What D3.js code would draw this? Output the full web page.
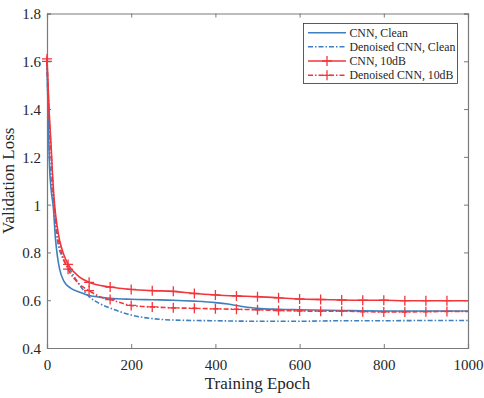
<!DOCTYPE html>
<html><head><meta charset="utf-8">
<script src="https://cdn.jsdelivr.net/npm/d3@7/dist/d3.min.js"></script>
<style>
html,body{margin:0;padding:0;background:#fff;}
svg{display:block;}
text{font-family:"Liberation Serif","Times New Roman",serif;fill:#262626;}
</style></head>
<body>
<svg id="chart" width="484" height="398"></svg>
<script>
const xTicks = [0, 200, 400, 600, 800, 1000];
const yTicks = [0.4, 0.6, 0.8, 1, 1.2, 1.4, 1.6, 1.8];
const seriesNames = ["CNN, Clean", "Denoised CNN, Clean", "CNN, 10dB", "Denoised CNN, 10dB"];

const cnnCleanEpoch = [0, 3, 6, 10, 15, 20, 25, 30, 40, 56, 75, 95, 125, 150, 200, 250, 300, 350, 400, 430, 460, 500, 550, 600, 700, 800, 900, 1000];
const cnnCleanLoss  = [1.6, 1.35, 1.16, 1.06, 0.99, 0.86, 0.78, 0.73, 0.68, 0.651, 0.635, 0.622, 0.613, 0.608, 0.604, 0.602, 0.6, 0.596, 0.59, 0.584, 0.575, 0.566, 0.562, 0.56, 0.557, 0.555, 0.555, 0.555];

const denCleanEpoch = [0, 3, 6, 10, 15, 25, 39, 52, 75, 100, 125, 150, 200, 268, 300, 400, 500, 600, 700, 800, 900, 1000];
const denCleanLoss  = [1.6, 1.38, 1.2, 1.1, 1.0, 0.85, 0.77, 0.735, 0.67, 0.615, 0.586, 0.567, 0.538, 0.52, 0.517, 0.514, 0.512, 0.512, 0.514, 0.514, 0.515, 0.515];

const cnn10Epoch = [0, 3, 6, 9, 13, 18, 24, 30, 40, 50, 75, 100, 150, 200, 250, 300, 350, 400, 450, 500, 550, 600, 650, 700, 750, 800, 850, 900, 950, 1000];
const cnn10Loss  = [1.61, 1.48, 1.36, 1.27, 1.13, 1.0, 0.91, 0.85, 0.79, 0.75, 0.7, 0.675, 0.655, 0.645, 0.64, 0.637, 0.628, 0.622, 0.618, 0.615, 0.61, 0.605, 0.603, 0.601, 0.6, 0.6, 0.598, 0.598, 0.598, 0.598];

const den10Epoch = [0, 3, 6, 9, 13, 18, 24, 30, 40, 50, 75, 100, 125, 150, 200, 250, 300, 350, 400, 450, 500, 550, 600, 650, 700, 750, 800, 850, 900, 950, 1000];
const den10Loss  = [1.6, 1.46, 1.34, 1.25, 1.11, 0.98, 0.89, 0.83, 0.77, 0.73, 0.67, 0.64, 0.615, 0.603, 0.578, 0.572, 0.568, 0.566, 0.564, 0.562, 0.56, 0.557, 0.555, 0.554, 0.554, 0.552, 0.551, 0.551, 0.552, 0.553, 0.553];

const markerEpochs = [0, 50, 100, 150, 200, 250, 300, 350, 400, 450, 500, 550, 600, 650, 700, 750, 800, 850, 900, 950];

const blue = "#3f7fbf", red = "#f2363c";
const series = [
  {name: seriesNames[0], ex: cnnCleanEpoch, ly: cnnCleanLoss, color: blue, dash: null, marker: false},
  {name: seriesNames[1], ex: denCleanEpoch, ly: denCleanLoss, color: blue, dash: "5,2,1.5,2", marker: false},
  {name: seriesNames[2], ex: cnn10Epoch, ly: cnn10Loss, color: red, dash: null, marker: true},
  {name: seriesNames[3], ex: den10Epoch, ly: den10Loss, color: red, dash: "5,2,1.5,2", marker: true}
];

const svg = d3.select("#chart");
const L = 47, R = 468, T = 13.5, B = 348;
const x = d3.scaleLinear().domain([0, 1000]).range([L, R]);
const y = d3.scaleLinear().domain([0.4, 1.8]).range([B, T]);
const axisColor = "#7a7a7a";

// axes
const gx = svg.append("g").attr("transform", `translate(0,${B})`)
  .call(d3.axisBottom(x).tickValues(xTicks).tickSize(-4).tickPadding(8).tickFormat(d3.format("d")));
const gxT = svg.append("g").attr("transform", `translate(0,${T})`)
  .call(d3.axisTop(x).tickValues(xTicks).tickSize(-4).tickFormat(""));
const gy = svg.append("g").attr("transform", `translate(${L},0)`)
  .call(d3.axisLeft(y).tickValues(yTicks).tickSize(-4).tickPadding(6).tickFormat(d => d === 1 ? "1" : d3.format(".1f")(d)));
const gyR = svg.append("g").attr("transform", `translate(${R},0)`)
  .call(d3.axisRight(y).tickValues(yTicks).tickSize(-4).tickFormat(""));
[gx, gxT, gy, gyR].forEach(g => {
  g.select(".domain").attr("stroke", axisColor).attr("stroke-width", 1.2);
  g.selectAll(".tick line").attr("stroke", axisColor);
  g.selectAll(".tick text").attr("font-size", 15).attr("fill", "#262626")
   .style("font-family", "'Liberation Serif','Times New Roman',serif");
});
gx.selectAll(".tick text").attr("dy", "0.95em");
gy.selectAll(".tick text").attr("dy", "0.36em");

// lines
const line = d3.line().x(d => x(d[0])).y(d => y(d[1])).curve(d3.curveMonotoneX);
const plot = svg.append("g");
series.forEach(s => {
  const pts = s.ex.map((e, i) => [e, s.ly[i]]);
  plot.append("path").datum(pts).attr("d", line)
    .attr("fill", "none").attr("stroke", s.color).attr("stroke-width", 1.6)
    .attr("stroke-dasharray", s.dash);
  if (s.marker) {
    const interp = d3.scaleLinear().domain(s.ex).range(s.ly);
    markerEpochs.forEach(e => {
      const cx = x(e), cy = y(interp(e));
      plot.append("path").attr("d", `M${cx-5},${cy}H${cx+5}M${cx},${cy-5}V${cy+5}`)
        .attr("stroke", s.color).attr("stroke-width", 1.3).attr("fill", "none");
    });
  }
});

// legend
const lg = svg.append("g");
lg.append("rect").attr("x", 303.5).attr("y", 23.5).attr("width", 154).attr("height", 60)
  .attr("fill", "#fff").attr("stroke", "#333").attr("stroke-width", 0.8);
const rowsY = [32.7, 46.7, 61, 75.3];
series.forEach((s, i) => {
  const yy = rowsY[i];
  lg.append("line").attr("x1", 308).attr("x2", 346).attr("y1", yy).attr("y2", yy)
    .attr("stroke", s.color).attr("stroke-width", 1.6).attr("stroke-dasharray", s.dash);
  if (s.marker) {
    lg.append("path").attr("d", `M322,${yy}H332M327,${yy-5}V${yy+5}`)
      .attr("stroke", s.color).attr("stroke-width", 1.3);
  }
  lg.append("text").attr("x", 349.5).attr("y", yy).attr("dy", "0.35em")
    .attr("font-size", 11.8).text(s.name);
});

// axis titles
svg.append("text").attr("x", (L + R) / 2).attr("y", 389).attr("text-anchor", "middle")
  .attr("font-size", 17).text("Training Epoch");
svg.append("text").attr("transform", `translate(14,${(T + B) / 2}) rotate(-90)`)
  .attr("text-anchor", "middle").attr("font-size", 17).text("Validation Loss");
</script>
</body></html>
